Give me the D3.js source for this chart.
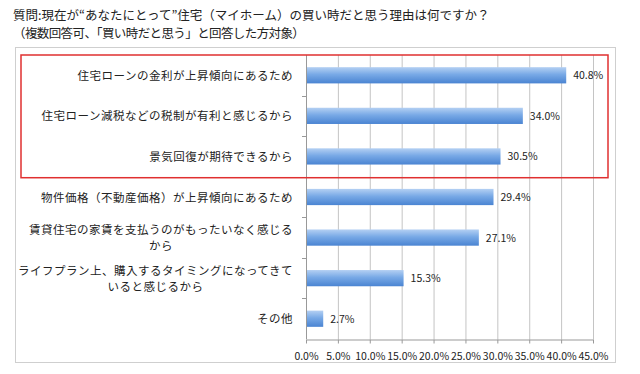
<!DOCTYPE html>
<html>
<head>
<meta charset="utf-8">
<script src="https://cdn.jsdelivr.net/npm/d3@7"></script>
<style>
  body { margin: 0; background: #fff; }
  text { font-family: "Noto Sans CJK JP", sans-serif; }
</style>
</head>
<body>
<div id="chart"></div>
<script>
const title_lines = [
    '質問:現在が“あなたにとって”住宅（マイホーム）の買い時だと思う理由は何ですか？',
    '（複数回答可、「買い時だと思う」と回答した方対象）'
];
const categories = [
    ['住宅ローンの金利が上昇傾向にあるため'],
    ['住宅ローン減税などの税制が有利と感じるから'],
    ['景気回復が期待できるから'],
    ['物件価格（不動産価格）が上昇傾向にあるため'],
    ['賃貸住宅の家賃を支払うのがもったいなく感じる', 'から'],
    ['ライフプラン上、購入するタイミングになってきて', 'いると感じるから'],
    ['その他']
];
const values = [40.8, 34.0, 30.5, 29.4, 27.1, 15.3, 2.7];
const tick_values = [0, 5, 10, 15, 20, 25, 30, 35, 40, 45];
const highlighted = 3; // first three answers are boxed in red

const chart_width = 640;
const chart_height = 374;
const plot_left = 306;
const plot_right = 593;
const plot_top = 55;
const plot_bottom = 339;

const svg = d3.select('#chart')
    .append('svg')
    .attr('width', chart_width)
    .attr('height', chart_height);

// bar gradient
const grad = svg.append('defs')
    .append('linearGradient')
    .attr('id', 'barGrad')
    .attr('x1', 0).attr('y1', 0).attr('x2', 0).attr('y2', 1);
grad.append('stop').attr('offset', '0%').attr('stop-color', '#b4d0f3');
grad.append('stop').attr('offset', '45%').attr('stop-color', '#78a9e6');
grad.append('stop').attr('offset', '100%').attr('stop-color', '#4a84d2');

// title
svg.selectAll('text.title')
    .data(title_lines)
    .enter()
    .append('text')
    .attr('class', 'title')
    .attr('x', 13)
    .attr('y', (d, i) => 20 + i * 18)
    .attr('font-size', 12.5)
    .attr('letter-spacing', (d, i) => i === 1 ? -0.6 : 0)
    .attr('fill', '#222')
    .text(d => d);

// outer frame
svg.append('rect')
    .attr('x', 15.5).attr('y', 47.5)
    .attr('width', 600).attr('height', 315)
    .attr('fill', 'none')
    .attr('stroke', '#cfcfcf');

// scales
const x_scale = d3.scaleLinear()
    .domain([0, 45])
    .range([plot_left, plot_right]);

const y_scale = d3.scaleBand()
    .domain(d3.range(values.length))
    .range([plot_top, plot_bottom])
    .paddingInner(0.6)
    .paddingOuter(0.3);

const step = y_scale.step();
const band_start = i => y_scale(i) - y_scale.paddingOuter() * step;

// gridlines
svg.selectAll('line.grid')
    .data(tick_values.slice(1))
    .enter()
    .append('line')
    .attr('class', 'grid')
    .attr('x1', d => x_scale(d) + 0.5)
    .attr('x2', d => x_scale(d) + 0.5)
    .attr('y1', plot_top)
    .attr('y2', plot_bottom)
    .attr('stroke', '#c4c4c4');

// bottom axis
const x_axis = d3.axisBottom(x_scale)
    .tickValues(tick_values)
    .tickFormat(d => d.toFixed(1) + '%')
    .tickSizeInner(4)
    .tickSizeOuter(0)
    .tickPadding(9);

const gx = svg.append('g')
    .attr('transform', 'translate(0,' + (plot_bottom + 0.5) + ')')
    .call(x_axis);
gx.select('.domain').attr('stroke', '#999');
gx.selectAll('.tick line').attr('stroke', '#999');
gx.selectAll('.tick text')
    .attr('font-size', 10.5)
    .attr('fill', '#222')
    .style('font-family', '"Noto Sans CJK JP", sans-serif');

// left axis line and band ticks
svg.append('line')
    .attr('x1', plot_left + 0.5).attr('x2', plot_left + 0.5)
    .attr('y1', plot_top).attr('y2', plot_bottom)
    .attr('stroke', '#999');

svg.selectAll('line.ytick')
    .data(d3.range(1, values.length))
    .enter()
    .append('line')
    .attr('class', 'ytick')
    .attr('x1', plot_left - 4)
    .attr('x2', plot_left)
    .attr('y1', d => Math.round(band_start(d)) + 0.5)
    .attr('y2', d => Math.round(band_start(d)) + 0.5)
    .attr('stroke', '#999');

// bars
svg.selectAll('rect.bar')
    .data(values)
    .enter()
    .append('rect')
    .attr('class', 'bar')
    .attr('x', plot_left + 1)
    .attr('y', (d, i) => y_scale(i))
    .attr('width', d => x_scale(d) - plot_left - 1)
    .attr('height', y_scale.bandwidth())
    .attr('fill', 'url(#barGrad)');

// value labels
svg.selectAll('text.value')
    .data(values)
    .enter()
    .append('text')
    .attr('class', 'value')
    .attr('x', d => x_scale(d) + 7)
    .attr('y', (d, i) => y_scale(i) + y_scale.bandwidth() / 2 + 4)
    .attr('font-size', 10.5)
    .attr('fill', '#222')
    .text(d => d.toFixed(1) + '%');

// category labels
const label_right = 293;
const labels = svg.selectAll('g.label')
    .data(categories)
    .enter()
    .append('g')
    .attr('class', 'label');

labels.each(function (lines, i) {
    const g = d3.select(this);
    const cy = y_scale(i) + y_scale.bandwidth() / 2;
    const line_h = 16;
    const texts = g.selectAll('text')
        .data(lines)
        .enter()
        .append('text')
        .attr('font-size', 11.5)
        .attr('letter-spacing', 0.5)
        .attr('fill', '#222')
        .attr('y', (d, j) => cy + 4.5 + (j - (lines.length - 1) / 2) * line_h)
        .text(d => d);
    const max_w = d3.max(texts.nodes(), n => n.getComputedTextLength());
    texts.attr('text-anchor', 'middle')
        .attr('x', label_right - max_w / 2);
});

// red highlight box
svg.append('rect')
    .attr('x', 21)
    .attr('y', band_start(0))
    .attr('width', 587)
    .attr('height', band_start(highlighted) - band_start(0) + 1)
    .attr('fill', 'none')
    .attr('stroke', '#e03030')
    .attr('stroke-width', 1.5);
</script>
</body>
</html>
